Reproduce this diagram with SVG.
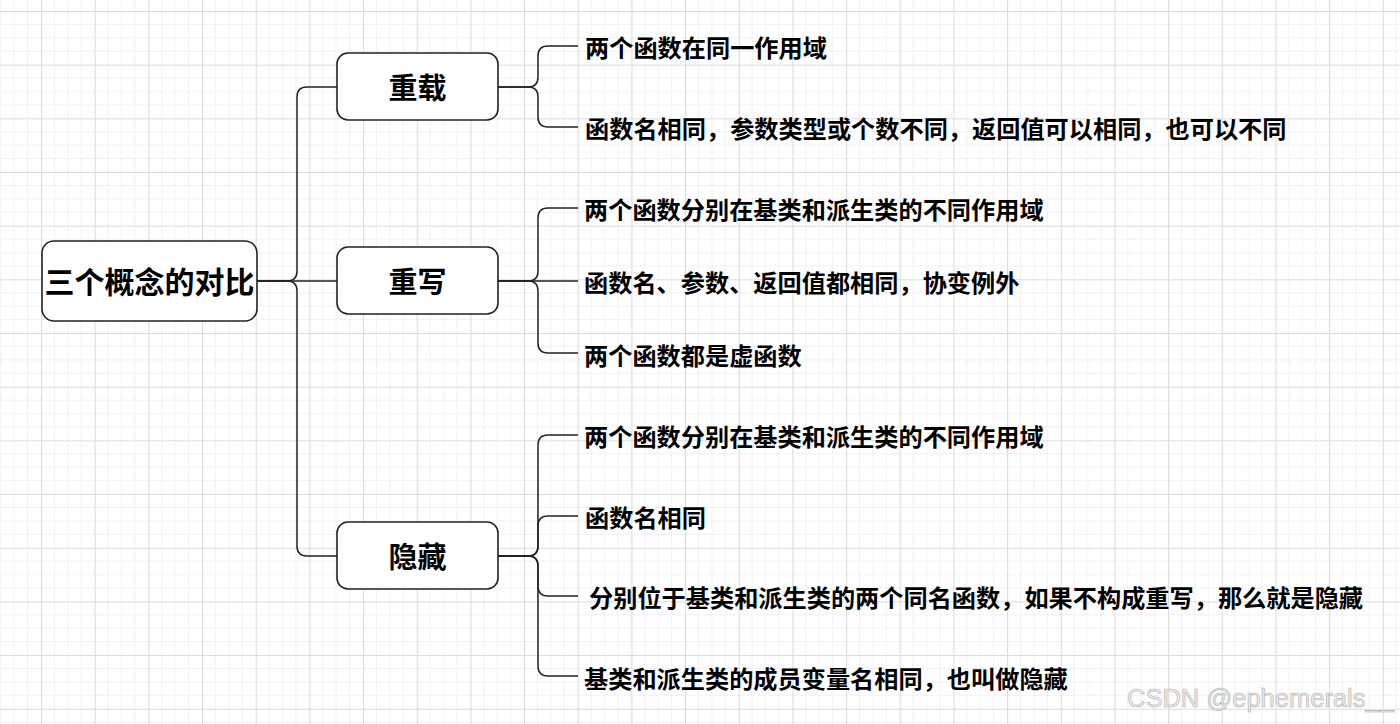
<svg xmlns="http://www.w3.org/2000/svg" width="1400" height="724" viewBox="0 0 1400 724">
<style>
.node rect{fill:#fff;stroke:#222;stroke-width:1.6}
.big{font-family:"Noto Sans CJK SC","Liberation Sans",sans-serif;font-weight:700;font-size:29px;fill:#000;text-anchor:middle;dominant-baseline:central}
.root{font-size:30px}
.leaf{font-family:"Noto Sans CJK SC","Liberation Sans",sans-serif;font-weight:700;font-size:24.2px;fill:#000;dominant-baseline:central}
#connectors path{fill:none;stroke:#222;stroke-width:1.5}
.wm{font-family:"Liberation Sans",Arial,sans-serif;font-size:25.5px;fill:#ececec;stroke:#b0b0b0;stroke-width:0.6}
</style>
<defs>
<pattern id="grid" x="41" y="11" width="53.67" height="53.67" patternUnits="userSpaceOnUse">
<path d="M13.42 0V53.67M26.83 0V53.67M40.25 0V53.67M0 13.42H53.67M0 26.83H53.67M0 40.25H53.67" stroke="#f1f1f1" stroke-width="1" fill="none"/>
<path d="M0.5 0V53.67M0 0.5H53.67" stroke="#dcdcdc" stroke-width="1.2" fill="none"/>
</pattern>
</defs>
<rect width="1400" height="724" fill="#fff"/>
<rect width="1400" height="724" fill="url(#grid)"/>
<g id="connectors">
<path d="M257,281 H337"/>
<path d="M257,281 H287 Q297,281 297,271 V97 Q297,87 307,87 H337"/>
<path d="M257,281 H287 Q297,281 297,291 V546 Q297,556 307,556 H337"/>
<path d="M498,87 H528 Q538,87 538,77 V56 Q538,46 548,46 H578"/>
<path d="M498,87 H528 Q538,87 538,97 V117 Q538,127 548,127 H578"/>
<path d="M498,281 H578"/>
<path d="M498,281 H528 Q538,281 538,271 V218 Q538,208 548,208 H578"/>
<path d="M498,281 H528 Q538,281 538,291 V343 Q538,353 548,353 H578"/>
<path d="M498,556 H528 Q538,556 538,546 V445 Q538,435 548,435 H578"/>
<path d="M498,556 H528 Q538,556 538,546 V526 Q538,516 548,516 H578"/>
<path d="M498,556 H528 Q538,556 538,566 V586 Q538,596 548,596 H578"/>
<path d="M498,556 H528 Q538,556 538,566 V666 Q538,676 548,676 H578"/>
</g>
<g id="root" class="node"><rect x="42" y="241" width="215" height="80" rx="12"/><text class="big root" x="149.5" y="280">三个概念的对比</text></g>
<g id="overload" class="node"><rect x="337" y="53" width="161" height="67" rx="11"/><text class="big" x="417.5" y="86">重载</text></g>
<g id="override" class="node"><rect x="337" y="247" width="161" height="67" rx="11"/><text class="big" x="417.5" y="280">重写</text></g>
<g id="hide" class="node"><rect x="337" y="522" width="161" height="67" rx="11"/><text class="big" x="417.5" y="555">隐藏</text></g>
<g id="overload-1"><text class="leaf" x="585" y="46">两个函数在同一作用域</text></g>
<g id="overload-2"><text class="leaf" x="585" y="127">函数名相同，参数类型或个数不同，返回值可以相同，也可以不同</text></g>
<g id="override-1"><text class="leaf" x="584" y="208">两个函数分别在基类和派生类的不同作用域</text></g>
<g id="override-2"><text class="leaf" x="584" y="281">函数名、参数、返回值都相同，协变例外</text></g>
<g id="override-3"><text class="leaf" x="584" y="354">两个函数都是虚函数</text></g>
<g id="hide-1"><text class="leaf" x="584" y="435">两个函数分别在基类和派生类的不同作用域</text></g>
<g id="hide-2"><text class="leaf" x="585" y="516">函数名相同</text></g>
<g id="hide-3"><text class="leaf" x="589" y="596">分别位于基类和派生类的两个同名函数，如果不构成重写，那么就是隐藏</text></g>
<g id="hide-4"><text class="leaf" x="584" y="677">基类和派生类的成员变量名相同，也叫做隐藏</text></g>
<text class="wm" x="1127" y="707">CSDN @ephemerals__</text>
</svg>
